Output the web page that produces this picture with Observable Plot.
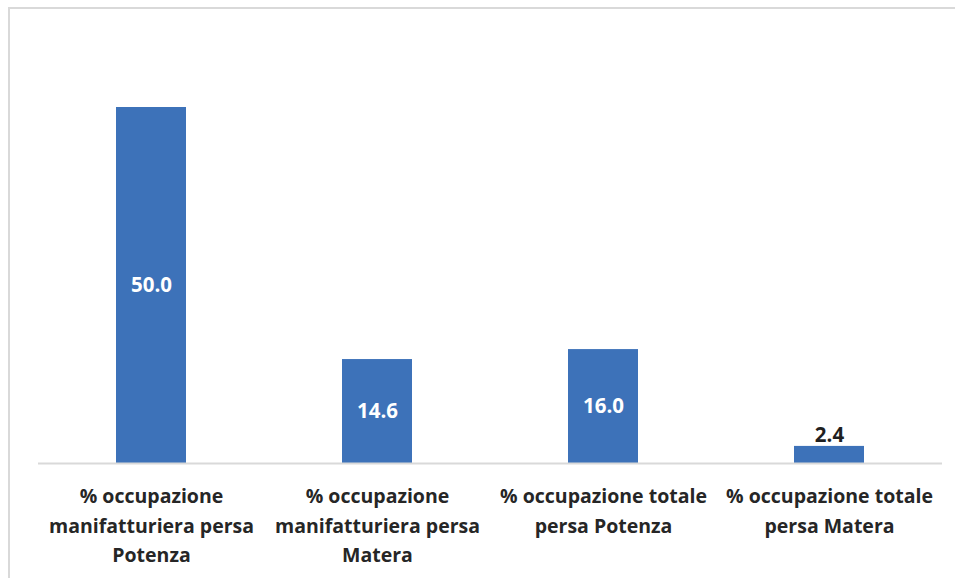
<!DOCTYPE html>
<html><head><meta charset="utf-8">
<script src="https://cdn.jsdelivr.net/npm/d3@7"></script>
<script src="https://cdn.jsdelivr.net/npm/@observablehq/plot@0.6"></script>
<style>
body{margin:0;background:#fff;}
#wrap{position:relative;width:955px;height:578px;overflow:hidden;}
#border{position:absolute;left:8px;top:7px;width:960px;height:600px;border-top:2px solid #d9d9d9;border-left:2px solid #d9d9d9;box-sizing:border-box;}
#chart{position:absolute;left:0;top:0;}
</style></head>
<body><div id="wrap"><div id="border"></div><div id="chart"></div></div>
<script>
const categories = [
  "% occupazione manifatturiera persa Potenza",
  "% occupazione manifatturiera persa Matera",
  "% occupazione totale persa Potenza",
  "% occupazione totale persa Matera"
];
const tickLabels = [
  "% occupazione\nmanifatturiera persa\nPotenza",
  "% occupazione\nmanifatturiera persa\nMatera",
  "% occupazione totale\npersa Potenza",
  "% occupazione totale\npersa Matera"
];
const values = [50.0, 14.6, 16.0, 2.4];

const data = categories.map((c, i) => ({cat: c, value: values[i]}));
const labelMap = new Map(categories.map((c, i) => [c, tickLabels[i]]));
const font = "'Open Sans', sans-serif";

const chart = Plot.plot({
  width: 955,
  height: 578,
  marginLeft: 38,
  marginRight: 13,
  marginTop: 107,
  marginBottom: 115,
  style: {fontFamily: font, background: "transparent"},
  x: {domain: categories, paddingInner: 0.69, paddingOuter: 0.345, align: 0.5},
  y: {domain: [0, 50], axis: null},
  marks: [
    Plot.barY(data, {x: "cat", y: "value", fill: "#3d72b9"}),
    Plot.ruleY([0], {stroke: "#d9d9d9", strokeWidth: 2}),
    Plot.text(data.filter(d => d.value >= 5), {x: "cat", y: d => d.value / 2, text: d => d.value.toFixed(1), fill: "white", fontSize: 20.5, fontWeight: "bold"}),
    Plot.text(data.filter(d => d.value < 5), {x: "cat", y: "value", text: d => d.value.toFixed(1), fill: "#1f1f1f", fontSize: 20.5, fontWeight: "bold", dy: -11}),
    Plot.axisX({tickSize: 0, tickPadding: 19, tickFormat: d => labelMap.get(d), fontSize: 19.5, fontWeight: "bold", lineHeight: 1.5, color: "#262626", label: null})
  ]
});
document.getElementById("chart").appendChild(chart);
</script>
</body></html>
